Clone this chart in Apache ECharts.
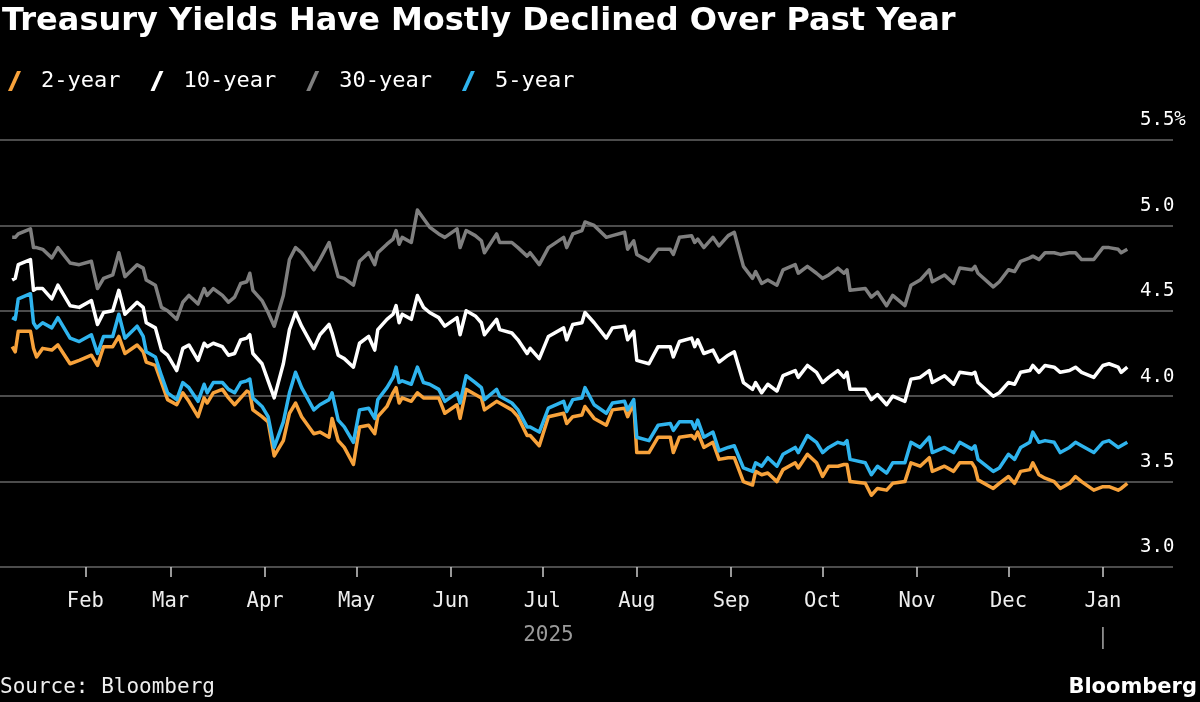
<!DOCTYPE html>
<html><head><meta charset="utf-8">
<script src="https://cdn.jsdelivr.net/npm/echarts@6/dist/echarts.min.js"></script>
<style>html,body{margin:0;padding:0;background:#000;}#c{width:1200px;height:702px;}</style>
</head><body><div id="c"></div>
<script>
// ---- data ----
const dates = [
  '2025-01-08','2025-01-09','2025-01-10','2025-01-14','2025-01-15','2025-01-16','2025-01-18','2025-01-21','2025-01-23','2025-01-27','2025-01-30',
  '2025-02-03','2025-02-05','2025-02-07','2025-02-10','2025-02-12','2025-02-14','2025-02-18','2025-02-20','2025-02-21','2025-02-24','2025-02-26','2025-02-28',
  '2025-03-03','2025-03-05','2025-03-07','2025-03-10','2025-03-12','2025-03-13','2025-03-15','2025-03-18','2025-03-20','2025-03-22','2025-03-24','2025-03-26','2025-03-27','2025-03-28','2025-03-31',
  '2025-04-02','2025-04-04','2025-04-07','2025-04-09','2025-04-11','2025-04-13','2025-04-17','2025-04-19','2025-04-22','2025-04-23','2025-04-25','2025-04-27','2025-04-30',
  '2025-05-02','2025-05-05','2025-05-07','2025-05-08','2025-05-11','2025-05-13','2025-05-14','2025-05-15','2025-05-16','2025-05-19','2025-05-21','2025-05-23','2025-05-25','2025-05-28','2025-05-30',
  '2025-06-03','2025-06-04','2025-06-06','2025-06-09','2025-06-11','2025-06-12','2025-06-16','2025-06-17','2025-06-21','2025-06-23','2025-06-26','2025-06-27','2025-06-30',
  '2025-07-03','2025-07-08','2025-07-09','2025-07-11','2025-07-14','2025-07-15','2025-07-18','2025-07-22','2025-07-24','2025-07-28','2025-07-29','2025-07-31',
  '2025-08-01','2025-08-05','2025-08-08','2025-08-12','2025-08-13','2025-08-15','2025-08-19','2025-08-20','2025-08-21','2025-08-23','2025-08-26','2025-08-28','2025-08-31',
  '2025-09-02','2025-09-05','2025-09-08','2025-09-09','2025-09-11','2025-09-13','2025-09-16','2025-09-18','2025-09-22','2025-09-23','2025-09-26','2025-09-29',
  '2025-10-01','2025-10-03','2025-10-06','2025-10-08','2025-10-09','2025-10-10','2025-10-15','2025-10-17','2025-10-19','2025-10-22','2025-10-24','2025-10-28','2025-10-30',
  '2025-11-02','2025-11-05','2025-11-06','2025-11-10','2025-11-13','2025-11-15','2025-11-19','2025-11-20','2025-11-21','2025-11-26','2025-11-28',
  '2025-12-01','2025-12-03','2025-12-05','2025-12-08','2025-12-09','2025-12-11','2025-12-13','2025-12-16','2025-12-18','2025-12-21','2025-12-23','2025-12-25','2025-12-29',
  '2026-01-01','2026-01-03','2026-01-06','2026-01-07','2026-01-09'
];
const yield2 = [
  4.29,4.26,4.38,4.38,4.28,4.23,4.28,4.27,4.30,4.19,4.21,
  4.24,4.18,4.29,4.29,4.35,4.25,4.30,4.26,4.20,4.18,4.08,3.98,
  3.95,4.02,3.97,3.88,3.99,3.96,4.02,4.04,3.99,3.95,3.99,4.03,4.02,3.92,3.88,
  3.85,3.65,3.74,3.90,3.96,3.88,3.78,3.79,3.76,3.87,3.74,3.70,3.60,
  3.82,3.83,3.78,3.88,3.94,4.02,4.05,3.96,3.99,3.97,4.02,3.99,3.99,3.99,3.90,
  3.95,3.87,4.04,4.01,3.99,3.92,3.97,3.96,3.92,3.88,3.77,3.77,3.71,
  3.88,3.90,3.84,3.88,3.89,3.94,3.87,3.83,3.92,3.93,3.88,3.96,
  3.67,3.67,3.76,3.76,3.67,3.76,3.77,3.75,3.79,3.70,3.73,3.63,3.64,
  3.64,3.50,3.48,3.56,3.54,3.55,3.50,3.57,3.61,3.58,3.66,3.61,
  3.53,3.59,3.59,3.60,3.60,3.50,3.49,3.42,3.46,3.45,3.49,3.50,3.61,
  3.59,3.64,3.56,3.59,3.56,3.61,3.61,3.58,3.51,3.46,3.49,
  3.53,3.49,3.56,3.57,3.61,3.54,3.52,3.50,3.46,3.49,3.53,3.50,3.45,
  3.47,3.47,3.45,3.46,3.49
];
const yield5 = [
  4.46,4.45,4.57,4.60,4.43,4.40,4.43,4.40,4.46,4.34,4.32,
  4.36,4.25,4.35,4.35,4.48,4.34,4.41,4.35,4.26,4.23,4.12,4.02,
  3.98,4.08,4.05,3.97,4.07,4.02,4.08,4.08,4.04,4.02,4.08,4.09,4.10,3.99,3.94,
  3.88,3.70,3.85,4.02,4.14,4.05,3.92,3.95,3.98,4.02,3.86,3.82,3.73,
  3.92,3.93,3.87,3.98,4.05,4.11,4.17,4.08,4.09,4.07,4.17,4.08,4.07,4.04,3.97,
  4.02,3.96,4.12,4.08,4.05,3.98,4.04,4.00,3.96,3.92,3.82,3.82,3.79,
  3.93,3.97,3.91,3.98,3.99,4.05,3.95,3.90,3.96,3.97,3.92,3.98,
  3.76,3.74,3.83,3.84,3.80,3.85,3.85,3.81,3.86,3.76,3.79,3.68,3.70,
  3.71,3.58,3.56,3.61,3.59,3.64,3.59,3.66,3.70,3.67,3.77,3.73,
  3.67,3.70,3.73,3.72,3.74,3.63,3.61,3.54,3.59,3.55,3.61,3.61,3.73,
  3.70,3.76,3.67,3.70,3.67,3.73,3.69,3.71,3.63,3.56,3.58,
  3.66,3.63,3.70,3.73,3.79,3.73,3.74,3.73,3.67,3.70,3.73,3.71,3.67,
  3.73,3.74,3.70,3.71,3.73
];
const yield10 = [
  4.68,4.69,4.77,4.80,4.62,4.63,4.63,4.57,4.65,4.53,4.52,
  4.56,4.42,4.49,4.50,4.62,4.48,4.55,4.52,4.43,4.40,4.27,4.24,
  4.15,4.28,4.30,4.21,4.31,4.29,4.31,4.29,4.24,4.25,4.33,4.34,4.36,4.25,4.19,
  4.09,3.99,4.19,4.39,4.49,4.41,4.28,4.36,4.42,4.37,4.24,4.22,4.17,
  4.31,4.35,4.27,4.39,4.45,4.48,4.53,4.43,4.48,4.45,4.59,4.52,4.49,4.46,4.41,
  4.46,4.36,4.50,4.47,4.43,4.36,4.45,4.39,4.37,4.33,4.25,4.28,4.22,
  4.35,4.40,4.33,4.42,4.43,4.49,4.43,4.34,4.40,4.41,4.33,4.38,
  4.21,4.19,4.29,4.29,4.23,4.32,4.34,4.29,4.33,4.25,4.27,4.20,4.24,
  4.26,4.08,4.04,4.08,4.02,4.07,4.03,4.12,4.15,4.11,4.18,4.14,
  4.08,4.11,4.15,4.11,4.14,4.04,4.04,3.98,4.01,3.95,4.00,3.97,4.10,
  4.11,4.15,4.08,4.12,4.07,4.14,4.13,4.14,4.08,4.00,4.02,
  4.08,4.07,4.14,4.15,4.18,4.14,4.18,4.17,4.14,4.15,4.17,4.14,4.11,
  4.18,4.19,4.17,4.14,4.17
];
const yield30 = [
  4.93,4.93,4.95,4.98,4.87,4.87,4.86,4.81,4.87,4.78,4.77,
  4.79,4.63,4.69,4.71,4.84,4.70,4.77,4.75,4.68,4.65,4.52,4.50,
  4.45,4.55,4.59,4.54,4.63,4.59,4.63,4.59,4.55,4.58,4.66,4.67,4.72,4.62,4.56,
  4.49,4.41,4.59,4.80,4.87,4.84,4.74,4.80,4.90,4.83,4.70,4.69,4.65,
  4.79,4.84,4.77,4.84,4.89,4.92,4.97,4.89,4.93,4.90,5.09,5.04,4.99,4.95,4.93,
  4.98,4.87,4.97,4.94,4.91,4.84,4.95,4.90,4.90,4.87,4.82,4.84,4.77,
  4.87,4.93,4.87,4.95,4.97,5.02,5.00,4.93,4.94,4.96,4.86,4.91,
  4.83,4.79,4.86,4.86,4.83,4.93,4.94,4.90,4.92,4.87,4.93,4.88,4.94,
  4.96,4.76,4.69,4.73,4.66,4.68,4.65,4.74,4.77,4.72,4.76,4.72,
  4.69,4.71,4.75,4.72,4.74,4.62,4.63,4.58,4.61,4.53,4.59,4.53,4.65,
  4.68,4.74,4.67,4.71,4.66,4.75,4.74,4.76,4.72,4.64,4.67,
  4.74,4.73,4.79,4.81,4.82,4.80,4.84,4.84,4.83,4.84,4.84,4.80,4.80,
  4.87,4.87,4.86,4.84,4.86
];
const seriesNames = ['2-year','10-year','30-year','5-year'];
const monthNames = ['Jan','Feb','Mar','Apr','May','Jun','Jul','Aug','Sep','Oct','Nov','Dec'];
const yearLabel = '2025';
const yMin = 3.0, yMax = 5.5, yStep = 0.5;

// ---- chart ----
const colors = {'2-year':'#f7a23b','10-year':'#ffffff','30-year':'#7f7f7f','5-year':'#2fb4ee'};
const valuesByName = {'2-year':yield2,'10-year':yield10,'30-year':yield30,'5-year':yield5};
const MONO = "'DejaVu Sans Mono', monospace";
const chart = echarts.init(document.getElementById('c'), null, {renderer:'canvas'});
const option = {
  backgroundColor:'#000',
  animation:false,
  grid:{left:0, right:27, top:140, bottom:135},
  legend:{
    left:3, top:65, itemWidth:13, itemHeight:20, itemGap:30,
    icon:'path://M0,20 L9,0 L13,0 L4,20 Z',
    textStyle:{color:'#fff', fontSize:22, fontFamily:MONO, padding:[0,0,0,15]},
    data:seriesNames
  },
  xAxis:{
    type:'time',
    min:'2025-01-04', max:'2026-01-24',
    splitNumber:12, minInterval:28*864e5, maxInterval:31*864e5,
    axisLine:{show:false},
    axisTick:{show:true, length:10, lineStyle:{color:'#cccccc', width:1.5}},
    splitLine:{show:false},
    axisLabel:{color:'#eeeeee', fontSize:20.5, fontFamily:MONO, margin:24,
      formatter:function(v){ return monthNames[new Date(v).getMonth()]; }}
  },
  yAxis:{
    type:'value', position:'right', min:yMin, max:yMax, interval:yStep,
    axisLine:{show:false}, axisTick:{show:false},
    splitLine:{lineStyle:{color:'#666666', width:1.5}},
    axisLabel:{margin:-33, align:'left', verticalAlign:'bottom', padding:[0,0,10,0],
      color:'#ffffff', fontSize:19, fontFamily:MONO,
      formatter:function(v){ return v===yMax ? v.toFixed(1)+'%' : v.toFixed(1); }}
  },
  series: seriesNames.map(n => ({
    name:n, type:'line', showSymbol:false, symbol:'none',
    color:colors[n],
    lineStyle:{width:3.5, color:colors[n], join:'round'},
    data: dates.map((d,i)=>[d, valuesByName[n][i]])
  }))
};
chart.setOption(option);
// year label and year-boundary marker positioned through the axis scale
const pMid = chart.convertToPixel({gridIndex:0}, ['2025-07-03', yMin]);
const pJan = chart.convertToPixel({gridIndex:0}, ['2026-01-01', yMin]);
chart.setOption({graphic:[
  {id:'title', type:'text', left:2, top:6, style:{text:'Treasury Yields Have Mostly Declined Over Past Year', fill:'#fff', font:"bold 32px 'DejaVu Sans'"}},
  {id:'source', type:'text', left:0, top:677, style:{text:'Source: Bloomberg', fill:'#eeeeee', font:"normal 21px "+MONO}},
  {id:'brand', type:'text', right:3, top:677, style:{text:'Bloomberg', fill:'#fff', font:"bold 21px 'DejaVu Sans'"}},
  {id:'year', type:'text', x:pMid[0], y:pMid[1]+69, style:{text:yearLabel, fill:'#9a9a9a', font:"normal 21px "+MONO, textAlign:'center', textVerticalAlign:'middle'}},
  {id:'yearsep', type:'line', shape:{x1:pJan[0], y1:pJan[1]+60, x2:pJan[0], y2:pJan[1]+82}, style:{stroke:'#aaaaaa', lineWidth:1.5}}
]});
</script>
</body></html>
